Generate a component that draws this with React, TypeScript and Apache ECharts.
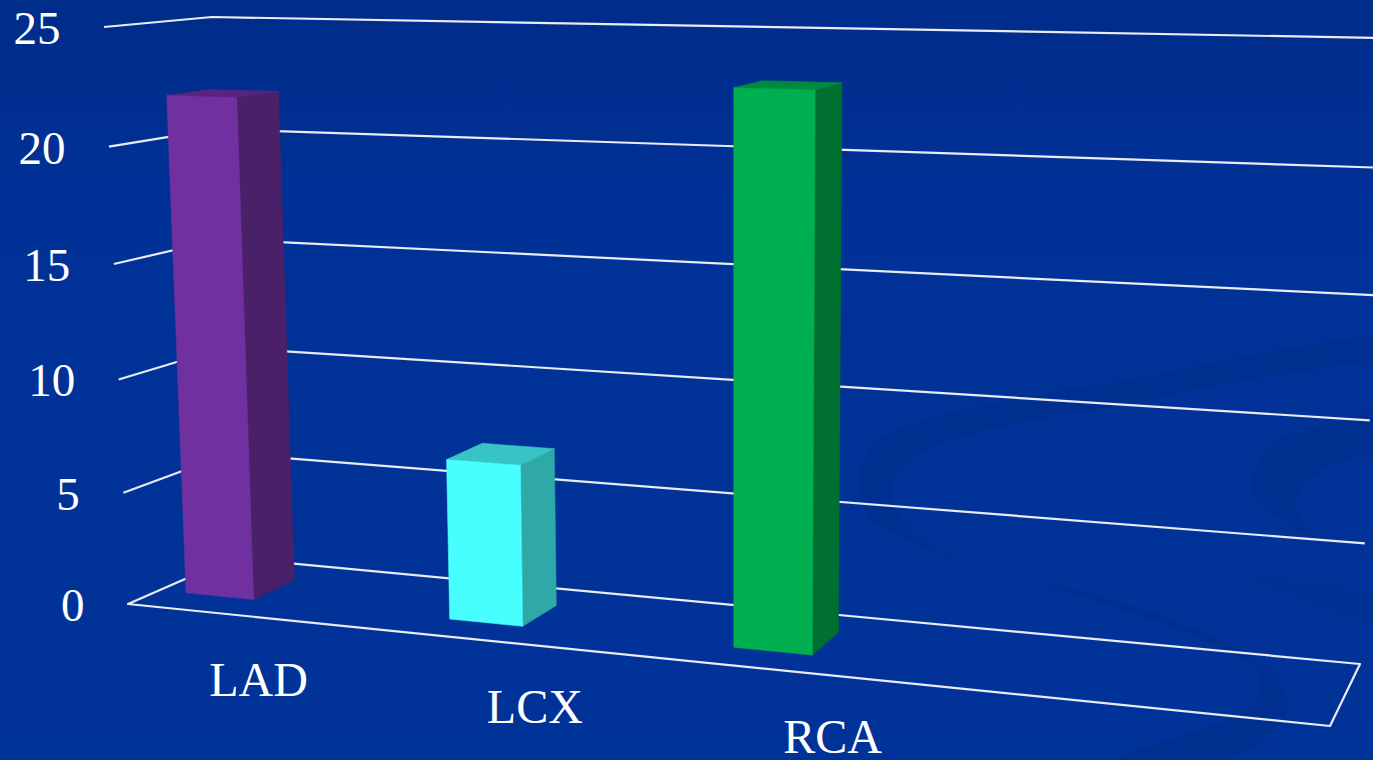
import React, { useEffect, useRef } from "react";
import * as echarts from "echarts";

const categories = ["LAD", "LCX", "RCA"];
const seriesValues = [22, 7, 23];
const yTicks = [0, 5, 10, 15, 20, 25];
const yMax = 25;

const barColors = [
  { front: "#7030A0", side: "#4A2068", top: "#572480" },
  { front: "#47FFFF", side: "#2FA8A8", top: "#38C4C4" },
  { front: "#00B050", side: "#007030", top: "#008A3E" },
];

// Perspective box of the plot: back/front, bottom/top, left/right corners on the page
const BOX = {
  bbl: [233, 558], bbr: [1360, 664], fbl: [128, 604], fbr: [1330, 726],
  tbl: [212, 17], tbr: [1385, 38], tfl: [104, 27], tfr: [1354, 56],
};
const BAR_DEPTH: [number, number] = [0.29, 0.7];
const BAR_HALF_T = 0.044;
const TICK_FONT = '47px "Liberation Serif", "Times New Roman", serif';
const CAT_FONT = '48px "Liberation Serif", "Times New Roman", serif';
const LINE = "#E9ECF4";

const lerp = (a: number, b: number, k: number) => a + (b - a) * k;
const lerp2 = (a: number[], b: number[], k: number) => [lerp(a[0], b[0], k), lerp(a[1], b[1], k)];
const warpV = (v: number) => v * (1 - 0.045 * (1 - v));
const warpU = (t: number) => -0.0553 + 0.625 * t + 0.0785 * t * t;

// u: across, d: 0 back .. 1 front, v: 0 floor .. 1 top of scale
function project(u: number, d: number, v: number) {
  const w = warpV(v);
  const bottom = lerp2(lerp2(BOX.bbl, BOX.bbr, u), lerp2(BOX.fbl, BOX.fbr, u), d);
  const top = lerp2(lerp2(BOX.tbl, BOX.tbr, u), lerp2(BOX.tfl, BOX.tfr, u), d);
  return lerp2(bottom, top, w);
}

function norm(api: any, params: any, x: number, y: number) {
  const c = api.coord([x, y]);
  const g = params.coordSys;
  return { t: (c[0] - g.x) / g.width, v: (g.y + g.height - c[1]) / g.height };
}

const swirlMain = [
  [1400, 335], [1282, 350], [1146, 377], [1010, 400], [884, 437], [859, 477], [870, 517], [908, 540],
  [976, 566], [1112, 600], [1214, 637], [1265, 667], [1287, 703], [1272, 733], [1231, 760], [1150, 790],
  [1100, 775], [1112, 760], [1197, 730], [1248, 707], [1260, 677], [1231, 653], [1146, 618], [1044, 584],
  [942, 552], [905, 523], [891, 493], [908, 463], [976, 433], [1112, 407], [1231, 383], [1400, 352],
];
const swirlRight = [
  [1400, 412], [1333, 423], [1275, 443], [1251, 480], [1265, 507], [1316, 537], [1295, 507], [1306, 483],
  [1340, 462], [1400, 445],
];
const swirlFaint = [
  [1400, 600], [1310, 582], [1240, 572], [1300, 600], [1400, 630],
];

export default function App() {
  const ref = useRef<HTMLDivElement>(null);
  useEffect(() => {
    document.body.style.margin = "0";
    document.body.style.overflow = "hidden";
    const chart = echarts.init(ref.current!, undefined, { renderer: "svg" });

    const renderGrid = (params: any, api: any) => {
      const tick = api.value(1);
      const { v } = norm(api, params, 0, tick);
      const fl = project(0, 1, v);
      const bl = project(0, 0, v);
      const br = project(1, 0, v);
      const style = { stroke: LINE, lineWidth: 2.2, fill: "none", lineJoin: "round" };
      if (tick === 0) {
        return {
          type: "polygon",
          shape: { points: [fl, bl, br, project(1, 1, 0)] },
          style,
        };
      }
      return { type: "polyline", shape: { points: [fl, bl, br] }, style };
    };

    const renderTick = (params: any, api: any) => {
      const tick = api.value(1);
      const { v } = norm(api, params, 0, tick);
      const p = project(0, 1, v);
      return {
        type: "text",
        style: {
          text: String(tick), x: p[0] - 43.5, y: p[1] + 1, fill: "#FFFFFF", font: TICK_FONT,
          align: "right", verticalAlign: "middle",
        },
      };
    };

    const renderBar = (params: any, api: any) => {
      const i = api.value(0);
      const { t, v } = norm(api, params, i, api.value(1));
      const u0 = warpU(t - BAR_HALF_T);
      const u1 = warpU(t + BAR_HALF_T);
      const [d0, d1] = BAR_DEPTH;
      const c = barColors[i];
      const face = (points: number[][], fill: string) => ({
        type: "polygon",
        shape: { points },
        style: { fill, stroke: fill, lineWidth: 0.6 },
      });
      return {
        type: "group",
        children: [
          face([project(u1, d1, 0), project(u1, d0, 0), project(u1, d0, v), project(u1, d1, v)], c.side),
          face([project(u0, d1, v), project(u0, d0, v), project(u1, d0, v), project(u1, d1, v)], c.top),
          face([project(u0, d1, 0), project(u1, d1, 0), project(u1, d1, v), project(u0, d1, v)], c.front),
        ],
      };
    };

    const renderCat = (params: any, api: any) => {
      const i = api.value(0);
      const { t } = norm(api, params, i, 0);
      const u = warpU(t);
      const p = project(u, 1, 0);
      return {
        type: "text",
        style: {
          text: categories[i], x: p[0] + 68 + 22 * u, y: p[1] + 69, fill: "#FFFFFF", font: CAT_FONT,
          align: "center", verticalAlign: "middle",
        },
      };
    };

    chart.setOption({
      animation: false,
      backgroundColor: {
        type: "linear", x: 0, y: 0, x2: 0, y2: 1,
        colorStops: [
          { offset: 0, color: "#002C8A" },
          { offset: 0.25, color: "#003196" },
          { offset: 1, color: "#003399" },
        ],
      },
      grid: { left: 0, right: 0, top: 0, bottom: 0 },
      xAxis: { type: "category", data: categories, show: false },
      yAxis: { type: "value", min: 0, max: yMax, interval: 5, show: false },
      graphic: {
        elements: [
          { type: "polygon", z: -10, silent: true, shape: { points: swirlMain, smooth: 0.4 }, style: { fill: "#00308F" } },
          { type: "polygon", z: -10, silent: true, shape: { points: swirlRight, smooth: 0.4 }, style: { fill: "#00308F" } },
          { type: "polygon", z: -10, silent: true, shape: { points: swirlFaint, smooth: 0.4 }, style: { fill: "#003194" } },
        ],
      },
      series: [
        { type: "custom", z: 2, silent: true, renderItem: renderGrid, data: yTicks.map((y) => [0, y]) },
        { type: "custom", z: 3, silent: true, renderItem: renderTick, data: yTicks.map((y) => [0, y]) },
        { type: "custom", z: 4, silent: true, renderItem: renderBar, data: categories.map((_, i) => [i, seriesValues[i]]) },
        { type: "custom", z: 5, silent: true, renderItem: renderCat, data: categories.map((_, i) => [i, 0]) },
      ],
    });
    return () => chart.dispose();
  }, []);
  return <div ref={ref} style={{ width: 1373, height: 760 }} />;
}
